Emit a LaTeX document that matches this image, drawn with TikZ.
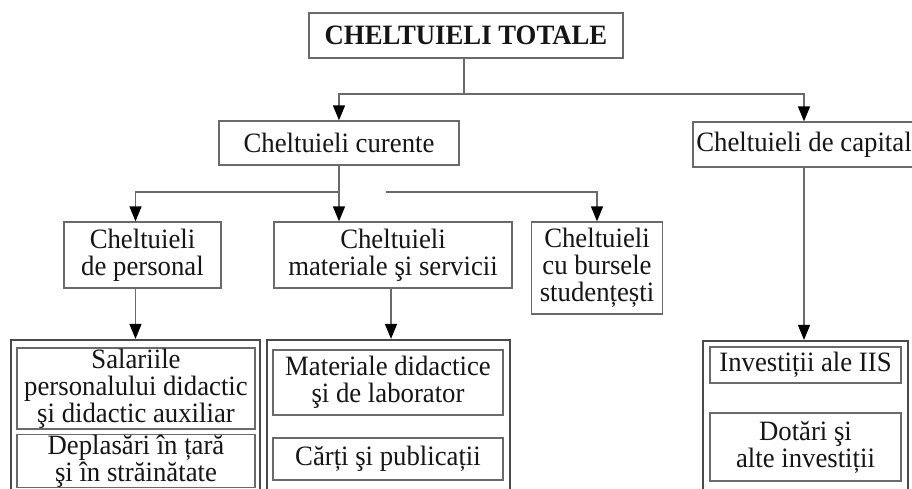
\documentclass[tikz,border=0pt]{standalone}
\usepackage{fontspec}
\setmainfont{Liberation Serif}[FakeStretch=0.955]
\usetikzlibrary{arrows.meta}
\definecolor{linegray}{HTML}{6A6A6A}
\definecolor{grpgray}{HTML}{4A4A4A}
\definecolor{txt}{HTML}{151515}
\begin{document}
\begin{tikzpicture}[x=1pt,y=-1pt,
  box/.style={draw=linegray,line width=1.3pt,fill=white,align=center,inner sep=0pt,text=txt,font=\fontsize{28}{27}\selectfont},
  grp/.style={draw=grpgray,line width=2.2pt,inner sep=0pt,fill=white},
  conn/.style={draw=linegray,line width=1.4pt},
  arr/.style={conn,-{Triangle[width=12pt,length=15pt,color=black]}}]
\useasboundingbox (0,0) rectangle (912,489);
\clip (0,0) rectangle (912,489);

% level 0
\node[box,minimum width=314pt,minimum height=45pt] (tot) at (466,35.5) {\bfseries CHELTUIELI TOTALE};
% level 1
\node[box,minimum width=240pt,minimum height=44pt] (cur) at (339,143) {Cheltuieli curente};
\node[box,minimum width=222pt,minimum height=45pt] (cap) at (804,144.5) {Cheltuieli de capital};
% level 2
\node[box,minimum width=157pt,minimum height=66pt] (pers) at (142.5,255) {Cheltuieli\\de personal};
\node[box,minimum width=238pt,minimum height=66pt] (mat) at (393,255) {Cheltuieli\\materiale şi servicii};
\node[box,minimum width=131pt,minimum height=92pt] (burs) at (597,268) {Cheltuieli\\cu bursele\\studențești};
% group frames
\node[grp,minimum width=249pt,minimum height=170pt] (lg) at (135.5,425) {};
\node[grp,minimum width=243pt,minimum height=170pt] (mg) at (388.5,425) {};
\node[grp,minimum width=205pt,minimum height=170pt] (rg) at (805.5,426) {};
% inner boxes
\node[box,minimum width=238pt,minimum height=81pt] (sal) at (136,388.5) {Salariile\\personalului didactic\\şi didactic auxiliar};
\node[box,minimum width=238pt,minimum height=52pt] (depl) at (136,461) {Deplasări în țară\\şi în străinătate};
\node[box,minimum width=230pt,minimum height=65pt] (mdid) at (388,382.5) {Materiale didactice\\şi de laborator};
\node[box,minimum width=230pt,minimum height=42pt] (carti) at (388,459) {Cărți şi publicații};
\node[box,minimum width=191pt,minimum height=36pt] (inv) at (805.5,365) {Investiții ale IIS};
\node[box,minimum width=191pt,minimum height=68pt] (dot) at (805.5,447) {Dotări şi\\alte investiții};

% connectors
\coordinate (j1) at ([xshift=-2pt]tot.south |- 0,94);
\draw[conn] ([xshift=-2pt]tot.south) -- (j1);
\draw[arr] (j1) -| (cur.north);
\draw[arr] (j1) -| (cap.north);

\coordinate (j2) at (cur.south |- 0,192);
\coordinate (gapR) at (386,192);
\draw[arr] (cur.south) -- (cur.south |- mat.north);
\draw[arr] (j2) -| ([xshift=-7pt]pers.north);
\draw[arr] (gapR) -| (burs.north);

\draw[arr] (lg.north |- pers.south) -- (lg.north);
\draw[arr] ([xshift=2.5pt]mg.north |- mat.south) -- ([xshift=2.5pt]mg.north);
\draw[arr] (cap.south) -- (cap.south |- rg.north);
\end{tikzpicture}
\end{document}
